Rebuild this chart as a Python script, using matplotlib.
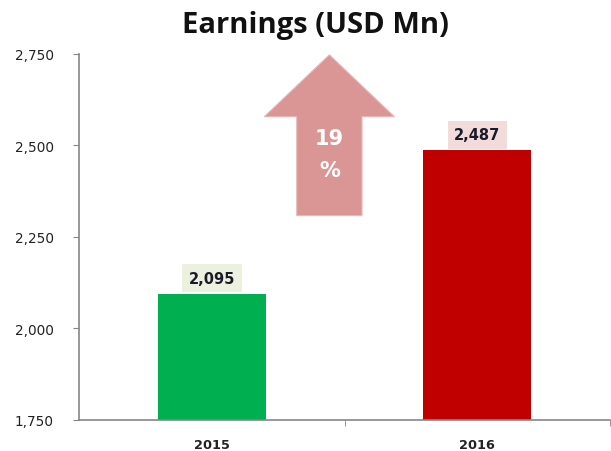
import matplotlib.pyplot as plt
from matplotlib.patches import Polygon
import numpy as np

years = ['2015', '2016']
earnings = [2095, 2487]
bar_colors = ['#00B050', '#C00000']
box_colors = ['#EBF1DE', '#F2DCDB']
yticks = [1750, 2000, 2250, 2500, 2750]

fig = plt.figure(figsize=(6.11, 4.52), dpi=100)
ax = fig.add_axes([79/611, 1-421/452, 531/611, (421-54.7)/452])

x = np.arange(len(years))
ax.bar(x, earnings, width=0.407, color=bar_colors, zorder=2)

for xi, v, bc in zip(x, earnings, box_colors):
    ax.annotate(f'{v:,}', (xi, v), xytext=(0, 11), textcoords='offset points',
                ha='center', va='center', fontsize=10.5, fontweight='bold', color='#1a1a2a',
                bbox=dict(boxstyle='square,pad=0.45', fc=bc, ec='none'))

# growth arrow
pct = round((earnings[1]/earnings[0]-1)*100)
cx, tip, base, bottom = 0.443, 2747, 2578, 2308
hw, sw = 0.245, 0.123
arrow = Polygon([(cx, tip), (cx+hw, base), (cx+sw, base), (cx+sw, bottom),
                 (cx-sw, bottom), (cx-sw, base), (cx-hw, base)],
                closed=True, fc='#D99694', ec='#E6B9B8', lw=0.8, zorder=3)
ax.add_patch(arrow)
ax.text(cx, 2520, f'{pct}', ha='center', va='center', color='white',
        fontsize=15, fontweight='bold', zorder=4)
ax.text(cx, 2432, '%', ha='center', va='center', color='white',
        fontsize=15, fontweight='bold', zorder=4)

ax.set_xlim(-0.5, 1.5)
ax.set_ylim(1750, 2750)
ax.set_yticks(yticks)
ax.set_yticklabels([f'{t:,}' for t in yticks])
ax.set_xticks(x)
ax.set_xticklabels(years, fontweight='bold')
ax.set_xticks([0.5, 1.5], minor=True)

for s in ['top', 'right']:
    ax.spines[s].set_visible(False)
for s in ['left', 'bottom']:
    ax.spines[s].set_color('#868686')
    ax.spines[s].set_linewidth(1.2)

ax.tick_params(axis='y', length=4, color='#868686', labelsize=9.8, labelcolor='#222222', pad=14)
ax.tick_params(axis='x', which='major', length=0, labelsize=9.3, labelcolor='#222222', pad=13)
ax.tick_params(axis='x', which='minor', length=4, color='#868686')

fig.text(315/611, 1-33/452, 'Earnings (USD Mn)', ha='center', va='baseline',
         fontsize=21, fontweight='bold', family='Open Sans', color='#111111')

fig.savefig('out.png')
